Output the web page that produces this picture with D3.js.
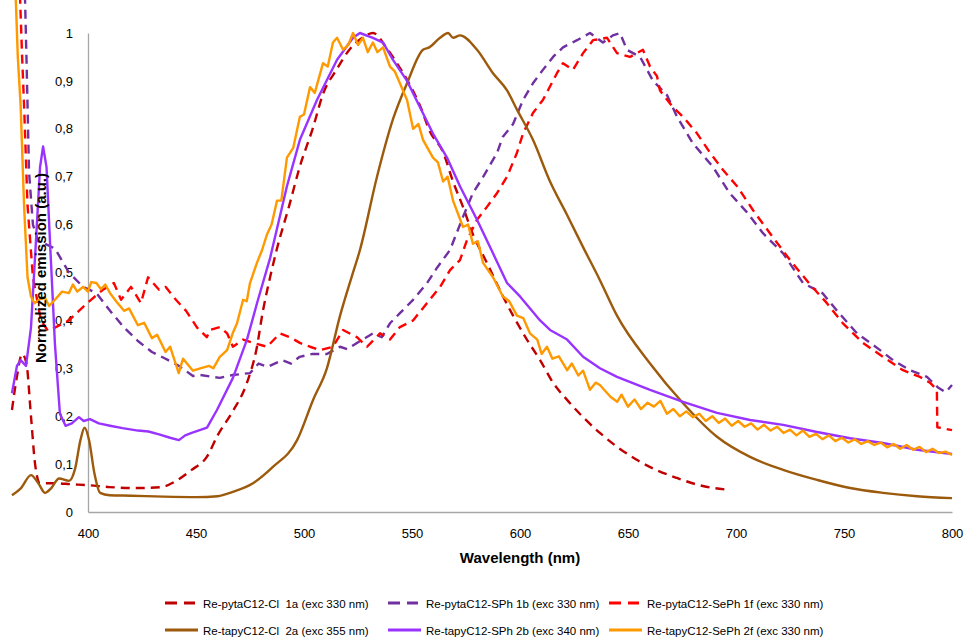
<!DOCTYPE html>
<html>
<head>
<meta charset="utf-8">
<script src="https://cdn.jsdelivr.net/npm/d3@7"></script>
<style>
  body { margin: 0; background: #fff; }
  svg text { font-family: "Liberation Sans", Arial, sans-serif; }
</style>
</head>
<body>
<svg id="chart" width="964" height="637"></svg>
<script>
// emission spectra, [wavelength nm, normalized emission]
var s1a = [[364.8,0.213],[367,0.28],[369.5,0.33],[371.5,0.31],[373.6,0.2],[375.5,0.1],[377.8,0.06],[385,0.06],[392,0.058],[400,0.056],[410,0.052],[423,0.05],[434,0.052],[440,0.063],[448,0.088],[455,0.115],[460,0.16],[467,0.21],[473.6,0.27],[478,0.34],[481,0.42],[484.3,0.49],[487.5,0.55],[493,0.637],[498,0.72],[504,0.8],[509,0.875],[515,0.923],[521,0.965],[527,0.99],[532,1.0],[538,0.97],[543,0.937],[548,0.9],[554,0.845],[558,0.797],[564.5,0.75],[569,0.69],[573.6,0.637],[578,0.582],[584.7,0.52],[590.7,0.463],[596.8,0.41],[603.2,0.36],[609.3,0.317],[615.3,0.27],[621.8,0.234],[629.2,0.198],[637,0.165],[645,0.136],[654,0.109],[663,0.088],[672.7,0.071],[683,0.056],[697,0.046]];

var s1b = [[370.8,1.08],[371.5,0.95],[372,0.85],[372.7,0.71],[374.5,0.6],[377,0.565],[380.1,0.56],[384.7,0.55],[391.2,0.5],[397.7,0.47],[403.9,0.457],[410.2,0.42],[416.7,0.385],[423.1,0.357],[429.6,0.334],[435.9,0.32],[442.1,0.305],[448.6,0.284],[452,0.286],[461,0.28],[467,0.286],[475,0.29],[479,0.31],[483,0.303],[490,0.317],[494,0.31],[498,0.324],[504,0.33],[510.6,0.33],[516.7,0.345],[520,0.34],[524.5,0.353],[532,0.373],[536,0.365],[539.8,0.394],[544.4,0.415],[550.5,0.443],[557,0.478],[561.6,0.51],[567.6,0.547],[573.6,0.616],[578.2,0.666],[583,0.7],[589.4,0.75],[592,0.783],[596.8,0.81],[601.4,0.86],[606,0.895],[610.6,0.923],[615.3,0.95],[619.9,0.97],[626.4,0.985],[632.4,1.0],[638.4,0.98],[643,0.995],[646.3,1.0],[649.5,0.965],[655.6,0.95],[661.6,0.9],[668.1,0.87],[672.7,0.825],[680,0.77],[689.4,0.72],[697,0.666],[705,0.626],[712.5,0.582],[721.8,0.54],[731,0.478],[740,0.457],[746.8,0.42],[756,0.373],[766.7,0.338],[772.7,0.317],[780.6,0.296],[788.4,0.282],[793.5,0.26],[797,0.25],[800,0.265]];

var s1f = [[368.5,1.08],[369.5,0.95],[370.4,0.85],[372,0.64],[374.5,0.49],[378.2,0.4],[381.5,0.378],[384.7,0.385],[391.2,0.4],[395.8,0.42],[401.4,0.443],[406.9,0.464],[412,0.478],[415.3,0.443],[419.9,0.47],[424.5,0.436],[427.8,0.49],[432.9,0.464],[435.9,0.47],[440.7,0.443],[445.4,0.42],[450.5,0.385],[455,0.365],[456.5,0.38],[461.1,0.386],[464.4,0.373],[467.1,0.345],[471.8,0.36],[476.4,0.353],[482.9,0.345],[488.9,0.373],[493.5,0.365],[498.1,0.353],[502.8,0.345],[507.4,0.338],[513.4,0.345],[518.1,0.38],[524.5,0.365],[529.2,0.345],[535.2,0.373],[539.8,0.36],[544.4,0.386],[550.5,0.4],[556.9,0.436],[563,0.47],[567.6,0.505],[572.2,0.526],[575.5,0.568],[580.1,0.61],[584.7,0.637],[589.4,0.666],[594,0.7],[598.6,0.75],[601.4,0.79],[606,0.833],[610.6,0.86],[617.1,0.916],[619.9,0.937],[624.5,0.923],[629.2,0.958],[633.8,0.985],[640.3,0.99],[644.9,0.958],[650.9,0.95],[656.9,0.965],[660.2,0.93],[663.4,0.91],[664.8,0.88],[670.8,0.845],[675.5,0.825],[682,0.79],[688,0.75],[694,0.714],[700.5,0.68],[707.9,0.63],[715.7,0.582],[725,0.526],[734.3,0.475],[742.1,0.436],[749.5,0.394],[758.8,0.353],[768,0.324],[777.3,0.296],[785.2,0.282],[789.8,0.27],[793,0.255],[793.2,0.177],[800,0.171]];

var s2a = [[364.8,0.035],[369,0.05],[373.6,0.077],[377,0.06],[380.1,0.04],[383,0.05],[386.6,0.07],[391.2,0.065],[394,0.09],[396.5,0.15],[398.4,0.176],[400.5,0.15],[403,0.08],[405.6,0.04],[410,0.035],[420,0.034],[435,0.032],[450,0.031],[460,0.033],[467,0.042],[476.4,0.06],[485.6,0.094],[496.8,0.15],[504.2,0.234],[510.6,0.3],[516.7,0.41],[522,0.49],[525.9,0.547],[533.8,0.7],[541.2,0.82],[547.7,0.895],[555.1,0.965],[558,0.97],[563,0.99],[566.7,1.0],[569,0.99],[572.2,0.995],[580.1,0.965],[587.5,0.916],[594,0.88],[598.6,0.84],[606,0.777],[613.9,0.69],[621.8,0.62],[629.2,0.553],[637,0.484],[644.9,0.41],[660.2,0.31],[675.5,0.227],[691.2,0.157],[706.5,0.115],[721.8,0.088],[737.5,0.067],[752.8,0.05],[768,0.04],[783.8,0.033],[800,0.029]];

var s2b = [[364.8,0.248],[367.1,0.305],[368.8,0.317],[371.3,0.305],[373.6,0.385],[375.9,0.565],[377.8,0.72],[379.2,0.763],[380.8,0.72],[382.4,0.565],[384.7,0.35],[387,0.205],[389.6,0.18],[392.5,0.185],[395.8,0.198],[398,0.19],[400.9,0.194],[405,0.185],[410.2,0.18],[416,0.175],[423.1,0.17],[428,0.168],[432.9,0.162],[438,0.155],[442.1,0.15],[445,0.16],[448,0.165],[455.1,0.176],[459.7,0.213],[467.1,0.28],[473.6,0.36],[478.5,0.44],[484.3,0.53],[492.1,0.68],[498.1,0.777],[506,0.86],[515.3,0.944],[522.7,0.99],[525.9,1.0],[531.9,0.99],[536.6,0.98],[541.2,0.944],[547.7,0.9],[553.7,0.845],[559.7,0.79],[566.2,0.74],[572.2,0.68],[580.1,0.61],[587.5,0.54],[594,0.478],[600,0.45],[609.3,0.4],[613.9,0.38],[621.8,0.36],[629.2,0.324],[637,0.3],[644.9,0.282],[660.2,0.255],[675.5,0.23],[691.2,0.207],[706.5,0.192],[721.8,0.182],[737.5,0.167],[752.8,0.154],[768,0.144],[783.8,0.13],[800,0.121]];

var s2f = [[366.5,1.08],[367.5,0.95],[368.8,0.85],[370.4,0.64],[372,0.49],[373.6,0.45],[375.2,0.436],[378,0.445],[380.1,0.447],[382,0.43],[384.7,0.443],[388,0.46],[391.2,0.457],[393,0.475],[395,0.46],[397.7,0.47],[400,0.46],[401.5,0.48],[403.9,0.478],[406,0.465],[408,0.475],[410.2,0.457],[413,0.44],[416.7,0.42],[419,0.425],[423.1,0.39],[426,0.395],[429.6,0.363],[432,0.37],[435.9,0.334],[438,0.345],[442,0.29],[444,0.32],[448.6,0.295],[452,0.3],[456,0.305],[458,0.3],[461,0.324],[464.4,0.338],[467,0.373],[469,0.394],[471.8,0.443],[473.5,0.44],[475,0.478],[478.2,0.52],[480.6,0.547],[482.9,0.58],[485,0.6],[487.5,0.65],[489.5,0.65],[492.1,0.74],[495,0.76],[498.1,0.825],[500,0.83],[502.8,0.887],[505,0.875],[508.8,0.937],[511,0.93],[513.4,0.98],[515.3,0.99],[518.1,0.965],[520.5,0.975],[522.7,1.0],[525,0.975],[527.3,0.99],[529.5,0.96],[531.9,0.98],[534,0.96],[536.6,0.97],[539.8,0.93],[542,0.92],[544.4,0.895],[547.7,0.86],[550.5,0.8],[553,0.81],[555.1,0.777],[559.7,0.74],[562,0.73],[564.4,0.69],[566.5,0.7],[569,0.65],[573.6,0.595],[576,0.6],[578.2,0.56],[580.5,0.565],[582.9,0.52],[587.5,0.49],[592.1,0.45],[595,0.44],[598.6,0.41],[601.5,0.405],[604.6,0.373],[608,0.36],[610,0.33],[612.5,0.345],[615,0.32],[618,0.325],[621.8,0.296],[624,0.31],[627,0.285],[629.2,0.295],[632.4,0.255],[635,0.27],[637,0.265],[640,0.25],[642,0.24],[645,0.23],[647,0.245],[650,0.22],[653,0.235],[656,0.215],[659,0.228],[662,0.22],[665,0.232],[668,0.205],[671,0.215],[674,0.2],[677,0.21],[680,0.198],[683,0.205],[686,0.19],[689,0.2],[692,0.186],[695,0.195],[698,0.18],[701,0.19],[704,0.178],[707,0.185],[710,0.172],[713,0.182],[716,0.17],[719,0.178],[722,0.165],[725,0.172],[728,0.16],[731,0.17],[734,0.157],[737,0.163],[740,0.152],[743,0.16],[746,0.148],[749,0.155],[752,0.145],[755,0.152],[758,0.142],[761,0.148],[764,0.14],[767,0.145],[770,0.135],[773,0.142],[776,0.132],[779,0.14],[782,0.13],[785,0.136],[788,0.125],[791,0.132],[794,0.123],[797,0.126],[800,0.119]];

var xTicks = [400, 450, 500, 550, 600, 650, 700, 750, 800];
var yTicks = [0, 0.1, 0.2, 0.3, 0.4, 0.5, 0.6, 0.7, 0.8, 0.9, 1];

var series = [
    {name: "Re-pytaC12-Cl  1a (exc 330 nm)", data: s1a, color: "#c00000", dash: "9,6", smooth: true},
    {name: "Re-pytaC12-SPh 1b (exc 330 nm)", data: s1b, color: "#7030a0", dash: "9,6", smooth: false},
    {name: "Re-pytaC12-SePh 1f (exc 330 nm)", data: s1f, color: "#ff0000", dash: "9,6", smooth: false},
    {name: "Re-tapyC12-Cl  2a (exc 355 nm)", data: s2a, color: "#9c5a0c", dash: null, smooth: true},
    {name: "Re-tapyC12-SPh 2b (exc 340 nm)", data: s2b, color: "#9933ff", dash: null, smooth: false},
    {name: "Re-tapyC12-SePh 2f (exc 330 nm)", data: s2f, color: "#ff9900", dash: null, smooth: false}
];

var svg = d3.select("#chart");

var x = d3.scaleLinear().domain([400, 800]).range([88, 952]);
var y = d3.scaleLinear().domain([0, 1]).range([512, 33]);

function fmt(d) {
    return d3.format(".1~f")(d).replace(".", ",");
}

// axes
var xAxis = svg.append("g")
    .attr("transform", "translate(0,512)")
    .call(d3.axisBottom(x).tickValues(xTicks).tickSize(0).tickPadding(17).tickFormat(d3.format("d")));
var yAxis = svg.append("g")
    .attr("transform", "translate(88,0)")
    .call(d3.axisLeft(y).tickValues(yTicks).tickSize(0).tickPadding(15).tickFormat(fmt));

[xAxis, yAxis].forEach(function (g) {
    g.select(".domain").attr("stroke", "#a6a6a6").attr("stroke-width", 1.3);
    g.selectAll("text").style("font-size", "13px").attr("fill", "#000");
});

// curves (not clipped: spectra run left of the axis like the original)
var lineSmooth = d3.line().x(function (d) { return x(d[0]); }).y(function (d) { return y(d[1]); }).curve(d3.curveMonotoneX);
var lineRaw = d3.line().x(function (d) { return x(d[0]); }).y(function (d) { return y(d[1]); });

svg.selectAll(".curve").data(series).enter().append("path")
    .classed("curve", true)
    .attr("d", function (d) { return (d.smooth ? lineSmooth : lineRaw)(d.data); })
    .attr("fill", "none")
    .attr("stroke", function (d) { return d.color; })
    .attr("stroke-width", 2.4)
    .attr("stroke-linejoin", "round")
    .attr("stroke-dasharray", function (d) { return d.dash; });

// axis titles
svg.append("text")
    .attr("x", 520).attr("y", 563)
    .attr("text-anchor", "middle")
    .style("font-size", "15px").style("font-weight", "bold")
    .text("Wavelength (nm)");

svg.append("text")
    .attr("transform", "translate(46,268) rotate(-90)")
    .attr("text-anchor", "middle")
    .style("font-size", "15px").style("font-weight", "bold")
    .text("Normalized emission (a.u.)");

// legend, 3 columns x 2 rows
var legendX = [165, 388, 609];
var legendY = [603, 630];
var legend = svg.selectAll(".legendItem").data(series).enter().append("g")
    .classed("legendItem", true)
    .attr("transform", function (d, i) {
        return "translate(" + legendX[i % 3] + "," + legendY[Math.floor(i / 3)] + ")";
    });

legend.append("line")
    .attr("x1", 0).attr("x2", function (d) { return d.dash ? 30 : 33; })
    .attr("y1", 0).attr("y2", 0)
    .attr("stroke", function (d) { return d.color; })
    .attr("stroke-width", 3)
    .attr("stroke-dasharray", function (d) { return d.dash ? "12,7" : null; });

legend.append("text")
    .attr("x", 38).attr("y", 5)
    .style("font-size", "11.5px")
    .style("white-space", "pre")
    .attr("fill", "#000")
    .text(function (d) { return d.name; });
</script>
</body>
</html>
